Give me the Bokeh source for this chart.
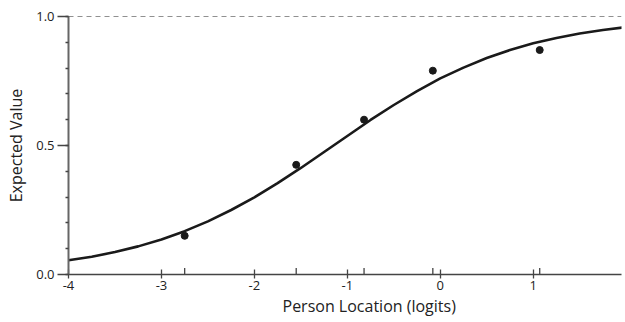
from bokeh.plotting import figure
from bokeh.models import Span, FixedTicker, SingleIntervalTicker, Title, NumeralTickFormatter
from bokeh.embed import file_html
from bokeh.resources import INLINE

# Observed person locations and mean scores
obs_x = [-2.75, -1.55, -0.82, -0.08, 1.07]
obs_y = [0.15, 0.425, 0.60, 0.79, 0.87]

# Expected value curve
curve_x = [-4.0, -3.75, -3.5, -3.25, -3.0, -2.75, -2.5, -2.25, -2.0, -1.75, -1.5, -1.25,
           -1.0, -0.75, -0.5, -0.25, 0.0, 0.25, 0.5, 0.75, 1.0, 1.25, 1.5, 1.75, 2.0]
curve_y = [0.055, 0.069, 0.087, 0.109, 0.136, 0.168, 0.206, 0.250, 0.299, 0.354, 0.413, 0.475,
           0.537, 0.599, 0.657, 0.711, 0.760, 0.802, 0.839, 0.870, 0.896, 0.917, 0.934, 0.948, 0.959]

x_ticks = [-4, -3, -2, -1, 0, 1]
x_tick_labels = ["-4", "-3", "-2", "-1", "0", "1"]

FONT = "Open Sans"

p = figure(width=623, height=318, output_backend="svg", toolbar_location=None,
           x_range=(-4, 1.95), y_range=(0, 1),
           min_border_left=68, min_border_right=2, min_border_top=16, min_border_bottom=44)
p.outline_line_color = None
p.xgrid.visible = False
p.ygrid.visible = False

# axes
xa = p.xaxis[0]
xa.ticker = FixedTicker(ticks=x_ticks)
xa.major_label_overrides = {t: s for t, s in zip(x_ticks, x_tick_labels)}
xa.major_tick_in = 5
xa.major_tick_out = 4
xa.minor_tick_line_color = None
xa.axis_line_color = "#444444"
xa.axis_line_width = 1.6
xa.major_tick_line_color = "#444444"
xa.major_tick_line_width = 1.3
xa.major_label_text_font = FONT
xa.major_label_text_font_size = "13px"
xa.major_label_text_color = "#222222"
xa.major_label_standoff = 2

ya = p.yaxis[0]
ya.ticker = SingleIntervalTicker(interval=0.5, num_minor_ticks=5)
ya.formatter = NumeralTickFormatter(format="0.0")
ya.major_tick_in = 0
ya.major_tick_out = 11
ya.minor_tick_in = 0
ya.minor_tick_out = 3
ya.axis_line_color = "#666666"
ya.axis_line_width = 2
ya.major_tick_line_color = "#444444"
ya.major_tick_line_width = 1.3
ya.minor_tick_line_color = "#444444"
ya.minor_tick_line_width = 1.3
ya.major_label_text_font = FONT
ya.major_label_text_font_size = "13px"
ya.major_label_text_color = "#222222"
ya.major_label_standoff = 3
ya.axis_label = "Expected Value"
ya.axis_label_text_font = FONT
ya.axis_label_text_font_style = "normal"
ya.axis_label_text_font_size = "16px"
ya.axis_label_text_color = "#222222"
ya.axis_label_standoff = 6

# x axis title
p.add_layout(Title(text="Person Location (logits)", align="left", offset=214,
                   text_font=FONT, text_font_size="16px", text_font_style="normal",
                   text_color="#222222", standoff=0), "below")

# dashed upper asymptote
p.add_layout(Span(location=1.0, dimension="width", line_color="#222222",
                  line_width=1.2, line_dash="5 4"))

# curve
p.line(curve_x, curve_y, line_color="#1a1a1a", line_width=2.6)

# observed points
p.scatter(obs_x, obs_y, size=7, color="#1a1a1a")

# small upward ticks on the x axis at observed locations
p.segment(x0=obs_x, y0=[0] * len(obs_x), x1=obs_x, y1=[0.025] * len(obs_x),
          line_color="#444444", line_width=1.3)

open("out.html", "w").write(file_html(p, INLINE))
